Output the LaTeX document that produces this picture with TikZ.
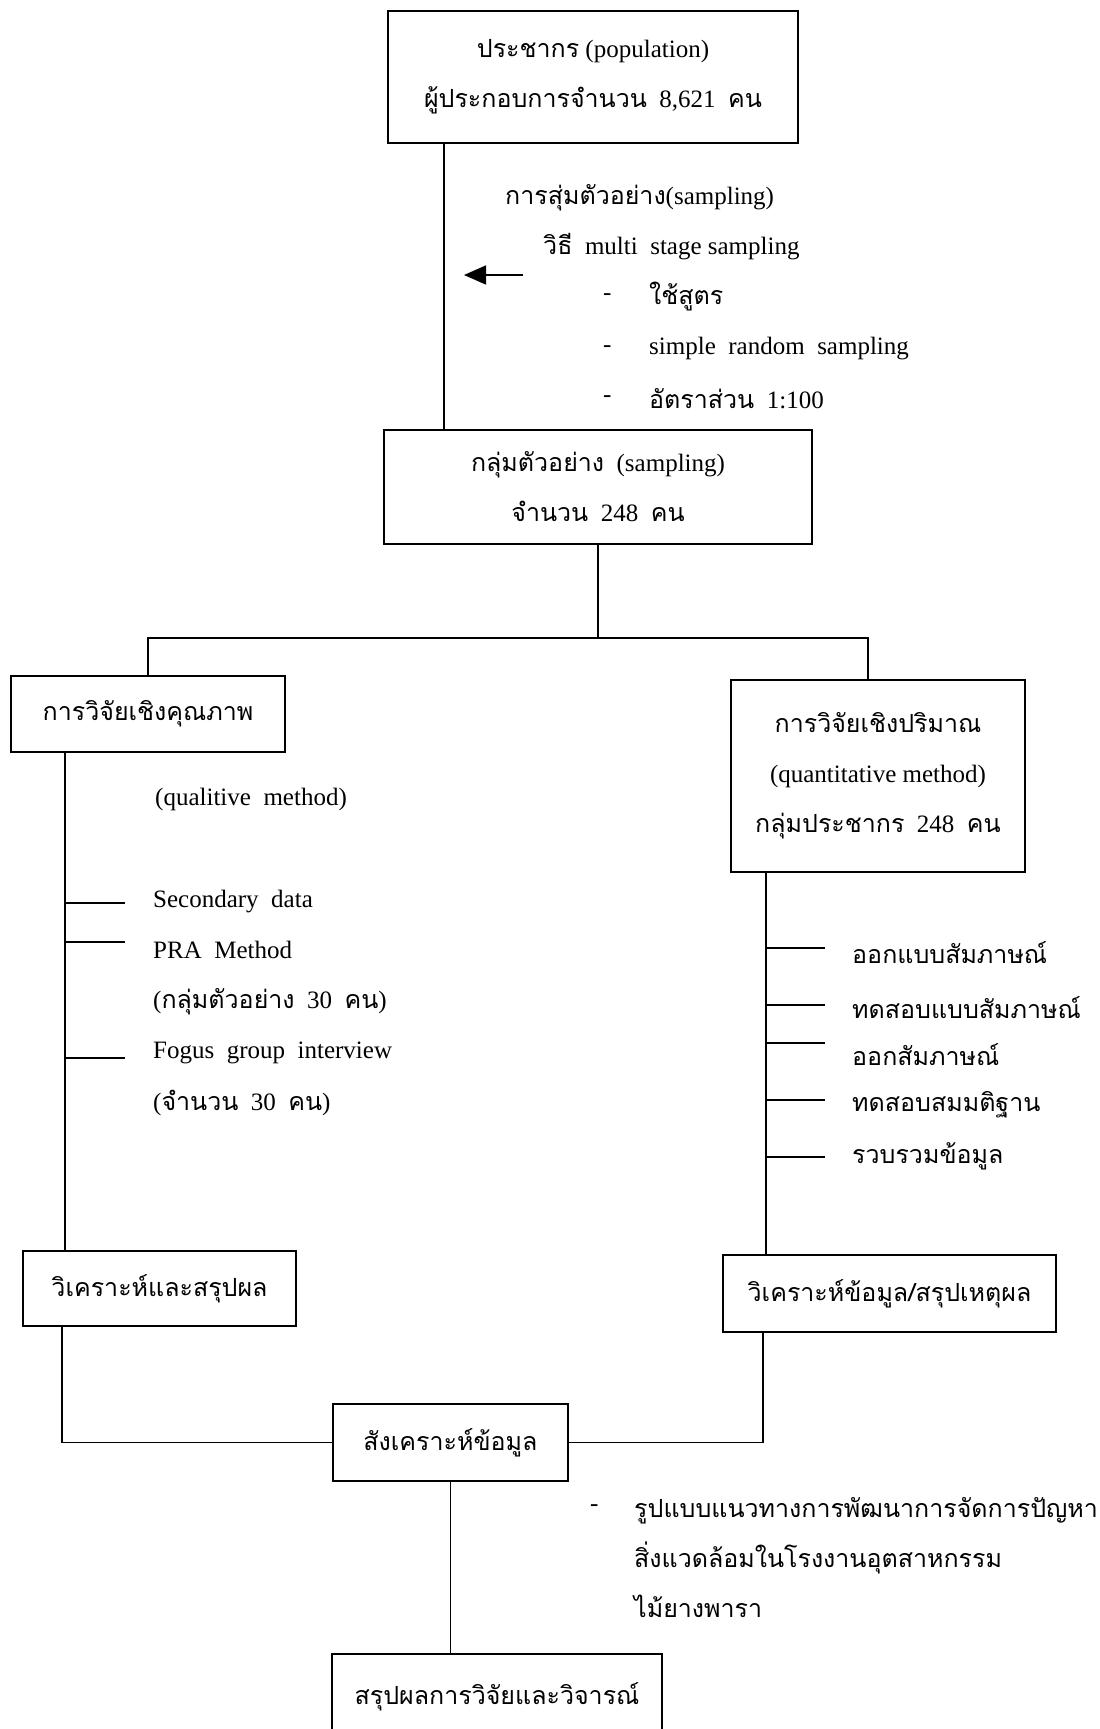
\documentclass[tikz,border=0pt]{standalone}
\usepackage{fontspec}
\setmainfont{Liberation Serif}
\newfontfamily\thaifont[Script=Thai]{Loma}
\usetikzlibrary{arrows.meta}

\tikzset{
    box/.style={draw, line width=1.6pt, align=center, inner sep=0pt},
    item/.style={anchor=west, inner sep=0pt},
    link/.style={line width=1.6pt},
}

\begin{document}
\begin{tikzpicture}[x=1pt, y=-1pt, font=\fontsize{25}{50}\selectfont]
    \useasboundingbox (0,0) rectangle (1100,1729);

    % boxes
    \node[box, minimum width=410, minimum height=132] (pop) at (593,77)
        {{\thaifont ประชากร} (population)\\{\thaifont ผู้ประกอบการจำนวน}~ 8,621~ {\thaifont คน}};
    \node[box, minimum width=428, minimum height=114] (samp) at (598,487)
        {{\thaifont กลุ่มตัวอย่าง}~ (sampling)\\{\thaifont จำนวน}~ 248~ {\thaifont คน}};
    \node[box, minimum width=274, minimum height=76] (qual) at (148,714)
        {\thaifont การวิจัยเชิงคุณภาพ};
    \node[box, minimum width=294, minimum height=192] (quant) at (878,776)
        {{\thaifont การวิจัยเชิงปริมาณ}\\(quantitative method)\\{\thaifont กลุ่มประชากร}~ 248~ {\thaifont คน}};
    \node[box, minimum width=273, minimum height=75] (anq) at (159.5,1288.5)
        {\thaifont วิเคราะห์และสรุปผล};
    \node[box, minimum width=333, minimum height=77] (anl) at (889.5,1293.5)
        {\thaifont วิเคราะห์ข้อมูล/สรุปเหตุผล};
    \node[box, minimum width=235, minimum height=77] (syn) at (450.5,1442.5)
        {\thaifont สังเคราะห์ข้อมูล};
    \node[box, minimum width=330, minimum height=86] (conc) at (497,1697)
        {\thaifont สรุปผลการวิจัยและวิจารณ์};

    % sampling notes
    \node[item] (s1) at (505,198) {{\thaifont การสุ่มตัวอย่าง}(sampling)};
    \node[item] (s2) at (543,247) {{\thaifont วิธี}~ multi~ stage sampling};
    \foreach \y/\n in {297/d1, 349/d2, 399/d3}
        \node[item] (\n) at (603,\y) {-};
    \node[item] (s3) at (649,297) {\thaifont ใช้สูตร};
    \node[item] (s4) at (649,349) {simple~ random~ sampling};
    \node[item] (s5) at (649,399) {{\thaifont อัตราส่วน}~ 1:100};

    % qualitative side
    \node[item] (q0) at (155,799) {(qualitive~ method)};
    \node[item] (q1) at (153,902) {Secondary~ data};
    \node[item] (q2) at (153,950) {PRA~ Method};
    \node[item] (q3) at (153,1002) {({\thaifont กลุ่มตัวอย่าง}~ 30~ {\thaifont คน})};
    \node[item] (q4) at (153,1053) {Fogus~ group~ interview};
    \node[item] (q5) at (153,1103) {({\thaifont จำนวน}~ 30~ {\thaifont คน})};

    % quantitative side
    \node[item] (t1) at (852,953) {\thaifont ออกแบบสัมภาษณ์};
    \node[item] (t2) at (852,1008) {\thaifont ทดสอบแบบสัมภาษณ์};
    \node[item] (t3) at (852,1055) {\thaifont ออกสัมภาษณ์};
    \node[item] (t4) at (852,1105) {\thaifont ทดสอบสมมติฐาน};
    \node[item] (t5) at (852,1156) {\thaifont รวบรวมข้อมูล};

    % result
    \node[item] (r0) at (590,1508) {-};
    \node[item, align=left] (r1) at (634,1558)
        {\thaifont รูปแบบแนวทางการพัฒนาการจัดการปัญหา\\\thaifont สิ่งแวดล้อมในโรงงานอุตสาหกรรม\\\thaifont ไม้ยางพารา};

    % connectors
    \coordinate (px) at (444,0);
    \coordinate (split) at (0,638);
    \coordinate (rx) at (868,0);
    \coordinate (qx) at (65,0);
    \coordinate (tx) at (766,0);
    \coordinate (lx) at (62,0);
    \coordinate (mx) at (763,0);
    \coordinate (arrowtail) at (523,275);
    \coordinate (arrowtip) at (464,275);

    \draw[link] (pop.south -| px) -- (samp.north -| px);
    \draw[link, -{Triangle[length=22pt, width=19pt]}] (arrowtail) -- (arrowtip);
    \draw[link] (samp.south) -- (samp.south |- split);
    \draw[link] (qual.north) -- (qual.north |- split) -- (split -| rx) -- (quant.north -| rx);
    \draw[link] (qual.south -| qx) -- (anq.north -| qx);
    \draw[link] (quant.south -| tx) -- (anl.north -| tx);
    \foreach \y in {903,942,1058}
        \draw[link] (qx |- 0,\y) -- ++(60,0);
    \foreach \y in {948,1005,1043,1100,1157}
        \draw[link] (tx |- 0,\y) -- ++(59,0);
    \draw[link] (anq.south -| lx) |- (syn.west);
    \draw[link] (anl.south -| mx) |- (syn.east);
    \draw[link] (syn.south) -- (syn.south |- conc.north);
\end{tikzpicture}
\end{document}
